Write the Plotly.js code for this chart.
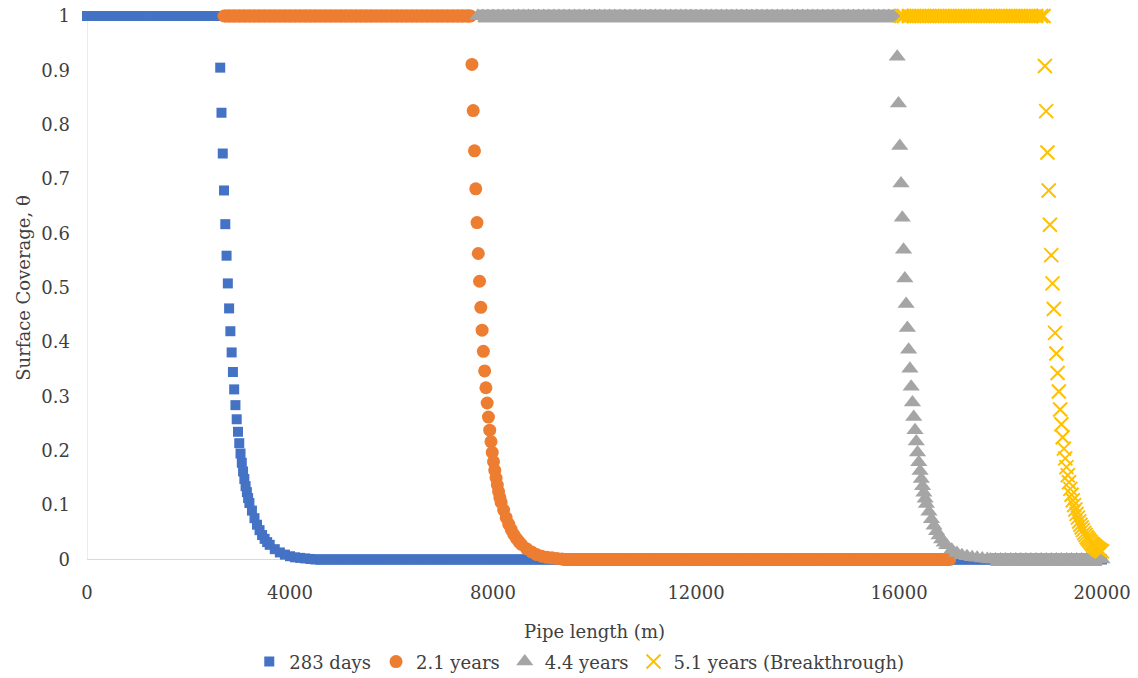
<!DOCTYPE html>
<html>
<head>
<meta charset="utf-8">
<script src="https://cdn.plot.ly/plotly-3.0.1.min.js"></script>
<style>
  html, body { margin: 0; padding: 0; background: #ffffff; }
  #chart { width: 1138px; height: 678px; }
</style>
</head>
<body>
<div id="chart"></div>
<script>
// Surface coverage along the pipe at four exposure times.
const seriesNames = ['283 days', '2.1 years', '4.4 years', '5.1 years (Breakthrough)'];
const xTickValues = [0, 4000, 8000, 12000, 16000, 20000];

// ---- 283 days ----
const blueTopX = [0, 100, 200, 300, 400, 500, 600, 700, 800, 900,
  1000, 1100, 1200, 1300, 1400, 1500, 1600, 1700, 1800, 1900,
  2000, 2100, 2200, 2300, 2400, 2500, 2600];
const blueTopY = [1, 1, 1, 1, 1, 1, 1, 1, 1, 1,
  1, 1, 1, 1, 1, 1, 1, 1, 1, 1,
  1, 1, 1, 1, 1, 1, 1];
const blueFrontX = [2625, 2650, 2675, 2700, 2725, 2750, 2775, 2800, 2825, 2850, 2875, 2900, 2925, 2950, 2975,
  3000, 3025, 3050, 3075, 3100, 3125, 3150, 3175, 3200, 3250, 3300, 3350, 3400, 3450, 3500, 3550, 3600,
  3700, 3800, 3900, 4000, 4100, 4200, 4300, 4400];
const blueFrontY = [0.905, 0.822, 0.747, 0.679, 0.617, 0.559, 0.508, 0.462, 0.420, 0.381, 0.345, 0.313, 0.284, 0.258, 0.235,
  0.214, 0.195, 0.178, 0.162, 0.148, 0.135, 0.124, 0.113, 0.104, 0.090, 0.076, 0.064, 0.054, 0.045, 0.038, 0.032, 0.027,
  0.019, 0.013, 0.009, 0.006, 0.004, 0.003, 0.002, 0.001];
const blueBottomX = [4500, 4600, 4700, 4800, 4900, 5000, 5100, 5200, 5300, 5400,
  5500, 5600, 5700, 5800, 5900, 6000, 6100, 6200, 6300, 6400,
  6500, 6600, 6700, 6800, 6900, 7000, 7100, 7200, 7300, 7400,
  7500, 7600, 7700, 7800, 7900, 8000, 8100, 8200, 8300, 8400,
  8500, 8600, 8700, 8800, 8900, 9000, 9100, 9200, 9300, 9400,
  9500, 9600, 9700, 9800, 9900, 10000, 10100, 10200, 10300, 10400,
  10500, 10600, 10700, 10800, 10900, 11000, 11100, 11200, 11300, 11400,
  11500, 11600, 11700, 11800, 11900, 12000, 12100, 12200, 12300, 12400,
  12500, 12600, 12700, 12800, 12900, 13000, 13100, 13200, 13300, 13400,
  13500, 13600, 13700, 13800, 13900, 14000, 14100, 14200, 14300, 14400,
  14500, 14600, 14700, 14800, 14900, 15000, 15100, 15200, 15300, 15400,
  15500, 15600, 15700, 15800, 15900, 16000, 16100, 16200, 16300, 16400,
  16500, 16600, 16700, 16800, 16900, 17000, 17100, 17200, 17300, 17400,
  17500, 17600, 17700, 17800, 17900, 18000, 18100, 18200, 18300, 18400,
  18500, 18600, 18700, 18800, 18900, 19000, 19100, 19200, 19300, 19400,
  19500, 19600, 19700, 19800, 19900, 20000];
const blueBottomY = [0, 0, 0, 0, 0, 0, 0, 0, 0, 0,
  0, 0, 0, 0, 0, 0, 0, 0, 0, 0,
  0, 0, 0, 0, 0, 0, 0, 0, 0, 0,
  0, 0, 0, 0, 0, 0, 0, 0, 0, 0,
  0, 0, 0, 0, 0, 0, 0, 0, 0, 0,
  0, 0, 0, 0, 0, 0, 0, 0, 0, 0,
  0, 0, 0, 0, 0, 0, 0, 0, 0, 0,
  0, 0, 0, 0, 0, 0, 0, 0, 0, 0,
  0, 0, 0, 0, 0, 0, 0, 0, 0, 0,
  0, 0, 0, 0, 0, 0, 0, 0, 0, 0,
  0, 0, 0, 0, 0, 0, 0, 0, 0, 0,
  0, 0, 0, 0, 0, 0, 0, 0, 0, 0,
  0, 0, 0, 0, 0, 0, 0, 0, 0, 0,
  0, 0, 0, 0, 0, 0, 0, 0, 0, 0,
  0, 0, 0, 0, 0, 0, 0, 0, 0, 0,
  0, 0, 0, 0, 0, 0];

// ---- 2.1 years ----
const orangeTopX = [2700, 2800, 2900, 3000, 3100, 3200, 3300, 3400, 3500, 3600,
  3700, 3800, 3900, 4000, 4100, 4200, 4300, 4400, 4500, 4600,
  4700, 4800, 4900, 5000, 5100, 5200, 5300, 5400, 5500, 5600,
  5700, 5800, 5900, 6000, 6100, 6200, 6300, 6400, 6500, 6600,
  6700, 6800, 6900, 7000, 7100, 7200, 7300, 7400, 7500, 7560];
const orangeTopY = [1, 1, 1, 1, 1, 1, 1, 1, 1, 1,
  1, 1, 1, 1, 1, 1, 1, 1, 1, 1,
  1, 1, 1, 1, 1, 1, 1, 1, 1, 1,
  1, 1, 1, 1, 1, 1, 1, 1, 1, 1,
  1, 1, 1, 1, 1, 1, 1, 1, 1, 1];
const orangeFrontX = [7585, 7610, 7635, 7660, 7685, 7710, 7735, 7760, 7785, 7810, 7835, 7860, 7885, 7910, 7935,
  7960, 7985, 8010, 8035, 8060, 8085, 8110, 8135, 8160, 8210, 8260, 8310, 8360, 8410, 8460, 8510, 8560,
  8660, 8760, 8860, 8960, 9060, 9160, 9260, 9360];
const orangeFrontY = [0.911, 0.826, 0.752, 0.682, 0.620, 0.563, 0.512, 0.464, 0.422, 0.383, 0.347, 0.316, 0.288, 0.262, 0.238,
  0.217, 0.197, 0.180, 0.164, 0.150, 0.137, 0.125, 0.114, 0.105, 0.091, 0.077, 0.065, 0.055, 0.046, 0.039, 0.033, 0.028,
  0.020, 0.014, 0.009, 0.006, 0.004, 0.003, 0.002, 0.001];
const orangeBottomX = [9400, 9500, 9600, 9700, 9800, 9900, 10000, 10100, 10200, 10300,
  10400, 10500, 10600, 10700, 10800, 10900, 11000, 11100, 11200, 11300,
  11400, 11500, 11600, 11700, 11800, 11900, 12000, 12100, 12200, 12300,
  12400, 12500, 12600, 12700, 12800, 12900, 13000, 13100, 13200, 13300,
  13400, 13500, 13600, 13700, 13800, 13900, 14000, 14100, 14200, 14300,
  14400, 14500, 14600, 14700, 14800, 14900, 15000, 15100, 15200, 15300,
  15400, 15500, 15600, 15700, 15800, 15900, 16000, 16100, 16200, 16300,
  16400, 16500, 16600, 16700, 16800, 16900, 17000];
const orangeBottomY = [0, 0, 0, 0, 0, 0, 0, 0, 0, 0,
  0, 0, 0, 0, 0, 0, 0, 0, 0, 0,
  0, 0, 0, 0, 0, 0, 0, 0, 0, 0,
  0, 0, 0, 0, 0, 0, 0, 0, 0, 0,
  0, 0, 0, 0, 0, 0, 0, 0, 0, 0,
  0, 0, 0, 0, 0, 0, 0, 0, 0, 0,
  0, 0, 0, 0, 0, 0, 0, 0, 0, 0,
  0, 0, 0, 0, 0, 0, 0];

// ---- 4.4 years ----
const grayTopX = [7700, 7800, 7900, 8000, 8100, 8200, 8300, 8400, 8500, 8600,
  8700, 8800, 8900, 9000, 9100, 9200, 9300, 9400, 9500, 9600,
  9700, 9800, 9900, 10000, 10100, 10200, 10300, 10400, 10500, 10600,
  10700, 10800, 10900, 11000, 11100, 11200, 11300, 11400, 11500, 11600,
  11700, 11800, 11900, 12000, 12100, 12200, 12300, 12400, 12500, 12600,
  12700, 12800, 12900, 13000, 13100, 13200, 13300, 13400, 13500, 13600,
  13700, 13800, 13900, 14000, 14100, 14200, 14300, 14400, 14500, 14600,
  14700, 14800, 14900, 15000, 15100, 15200, 15300, 15400, 15500, 15600,
  15700, 15800, 15900, 15940];
const grayTopY = [1, 1, 1, 1, 1, 1, 1, 1, 1, 1,
  1, 1, 1, 1, 1, 1, 1, 1, 1, 1,
  1, 1, 1, 1, 1, 1, 1, 1, 1, 1,
  1, 1, 1, 1, 1, 1, 1, 1, 1, 1,
  1, 1, 1, 1, 1, 1, 1, 1, 1, 1,
  1, 1, 1, 1, 1, 1, 1, 1, 1, 1,
  1, 1, 1, 1, 1, 1, 1, 1, 1, 1,
  1, 1, 1, 1, 1, 1, 1, 1, 1, 1,
  1, 1, 1, 1];
const grayFrontX = [15965, 15990, 16015, 16040, 16065, 16090, 16115, 16140, 16165, 16190, 16215, 16240, 16265, 16290, 16315,
  16340, 16365, 16390, 16415, 16440, 16465, 16490, 16515, 16540, 16590, 16640, 16690, 16740, 16790, 16840, 16890, 16940,
  17040, 17140, 17240, 17340, 17440, 17540, 17640, 17740];
const grayFrontY = [0.925, 0.839, 0.761, 0.692, 0.629, 0.570, 0.517, 0.470, 0.426, 0.386, 0.351, 0.318, 0.289, 0.262, 0.238,
  0.217, 0.197, 0.179, 0.163, 0.148, 0.135, 0.123, 0.112, 0.102, 0.088, 0.074, 0.062, 0.052, 0.044, 0.037, 0.031, 0.026,
  0.018, 0.012, 0.008, 0.006, 0.004, 0.003, 0.002, 0.001];
const grayBottomX = [17800, 17900, 18000, 18100, 18200, 18300, 18400, 18500, 18600, 18700,
  18800, 18900, 19000, 19100, 19200, 19300, 19400, 19500, 19600, 19700,
  19800, 19900, 20000];
const grayBottomY = [0, 0, 0, 0, 0, 0, 0, 0, 0, 0,
  0, 0, 0, 0, 0, 0, 0, 0, 0, 0,
  0, 0, 0];

// ---- 5.1 years (breakthrough) ----
const yellowTopX = [16050, 16100, 16200, 16300, 16400, 16500, 16600, 16700, 16800, 16900,
  17000, 17100, 17200, 17300, 17400, 17500, 17600, 17700, 17800, 17900,
  18000, 18100, 18200, 18300, 18400, 18500, 18600, 18700, 18800, 18850];
const yellowTopY = [1, 1, 1, 1, 1, 1, 1, 1, 1, 1,
  1, 1, 1, 1, 1, 1, 1, 1, 1, 1,
  1, 1, 1, 1, 1, 1, 1, 1, 1, 1];
const yellowFrontX = [18875, 18900, 18925, 18950, 18975, 19000, 19025, 19050, 19075, 19100, 19125, 19150, 19175, 19200, 19225,
  19250, 19275, 19300, 19325, 19350, 19375, 19400, 19425, 19450, 19475, 19500, 19525, 19550, 19575, 19600, 19625,
  19650, 19675, 19700, 19725, 19750, 19775, 19800, 19825, 19850, 19875, 19900, 19925, 19950, 19975, 20000];
const yellowFrontY = [0.908, 0.825, 0.749, 0.679, 0.616, 0.560, 0.508, 0.461, 0.417, 0.379, 0.343, 0.309, 0.276, 0.249, 0.225,
  0.204, 0.186, 0.170, 0.155, 0.142, 0.130, 0.119, 0.109, 0.100, 0.092, 0.084, 0.077, 0.070, 0.064, 0.059, 0.054,
  0.049, 0.045, 0.041, 0.038, 0.035, 0.032, 0.029, 0.027, 0.025, 0.023, 0.021, 0.019, 0.018, 0.016, 0.015];

const FONT = 'DejaVu Serif, Liberation Serif, serif';
const TEXT = '#404040';
const AXIS = '#d9d9d9';

// marker style per series
const styles = [
  {color: '#4472C4', symbol: 'square', size: 10, band: 10},
  {color: '#ED7D31', symbol: 'circle', size: 13, band: 13},
  {color: '#A5A5A5', symbol: 'triangle-up', size: 15, band: 13},
  {color: '#FFC000', symbol: 'x-thin', size: 14, band: 13}
];

function markerFor(st) {
  if (st.symbol === 'x-thin') {
    return {symbol: 'x-thin', size: st.size, color: st.color, line: {color: st.color, width: 2}};
  }
  return {symbol: st.symbol, size: st.size, color: st.color, line: {width: 0}};
}

// plateau runs: closely packed points, with a band behind them
function plateau(x, y, i) {
  const st = styles[i];
  return {
    type: 'scatter', mode: 'lines+markers', x: x, y: y,
    line: {color: st.color, width: st.band},
    marker: markerFor(st),
    cliponaxis: false, showlegend: false, hoverinfo: 'skip',
    legendgroup: seriesNames[i]
  };
}

// the coverage front, shown as individual markers
function front(x, y, i) {
  const st = styles[i];
  return {
    type: 'scatter', mode: 'markers', x: x, y: y, name: seriesNames[i],
    marker: markerFor(st),
    cliponaxis: false, legendgroup: seriesNames[i]
  };
}

const data = [
  plateau(blueTopX, blueTopY, 0), front(blueFrontX, blueFrontY, 0), plateau(blueBottomX, blueBottomY, 0),
  plateau(orangeTopX, orangeTopY, 1), front(orangeFrontX, orangeFrontY, 1), plateau(orangeBottomX, orangeBottomY, 1),
  plateau(grayTopX, grayTopY, 2), front(grayFrontX, grayFrontY, 2), plateau(grayBottomX, grayBottomY, 2),
  plateau(yellowTopX, yellowTopY, 3), front(yellowFrontX, yellowFrontY, 3)
];

// the value range carries a little headroom so the bands at 0 and 1 are not cut off;
// the axis lines themselves are drawn at 0 and 1
const layout = {
  width: 1138, height: 678,
  margin: {l: 87, r: 36, t: 9, b: 111, autoexpand: false},
  paper_bgcolor: '#ffffff', plot_bgcolor: '#ffffff',
  font: {family: FONT, size: 18, color: TEXT},
  xaxis: {
    range: [0, 20000], tickmode: 'array', tickvals: xTickValues,
    ticktext: xTickValues.map(String),
    showgrid: false, zeroline: false, showline: false,
    ticks: '', ticklabelstandoff: 13, automargin: false,
    title: {text: 'Pipe length (m)', standoff: 23, font: {family: FONT, size: 18, color: TEXT}}
  },
  yaxis: {
    range: [-0.0138, 1.0129], tick0: 0, dtick: 0.1,
    showgrid: false, zeroline: false, showline: false,
    ticks: '', ticklabelstandoff: 16, automargin: false,
    title: {text: 'Surface Coverage, θ', standoff: 6, font: {family: FONT, size: 18, color: TEXT}}
  },
  shapes: [
    {type: 'line', xref: 'x', yref: 'y', x0: 0, x1: 20000, y0: 0, y1: 0, layer: 'below', line: {color: AXIS, width: 1}},
    {type: 'line', xref: 'x', yref: 'y', x0: 0, x1: 0, y0: 0, y1: 1, layer: 'below', line: {color: AXIS, width: 1}}
  ],
  showlegend: true,
  legend: {
    orientation: 'h', x: 0.485, xanchor: 'center', y: -0.170, yanchor: 'middle',
    font: {family: FONT, size: 18, color: TEXT}, bgcolor: 'rgba(0,0,0,0)'
  }
};

Plotly.newPlot('chart', data, layout, {displayModeBar: false, staticPlot: true});
</script>
</body>
</html>
